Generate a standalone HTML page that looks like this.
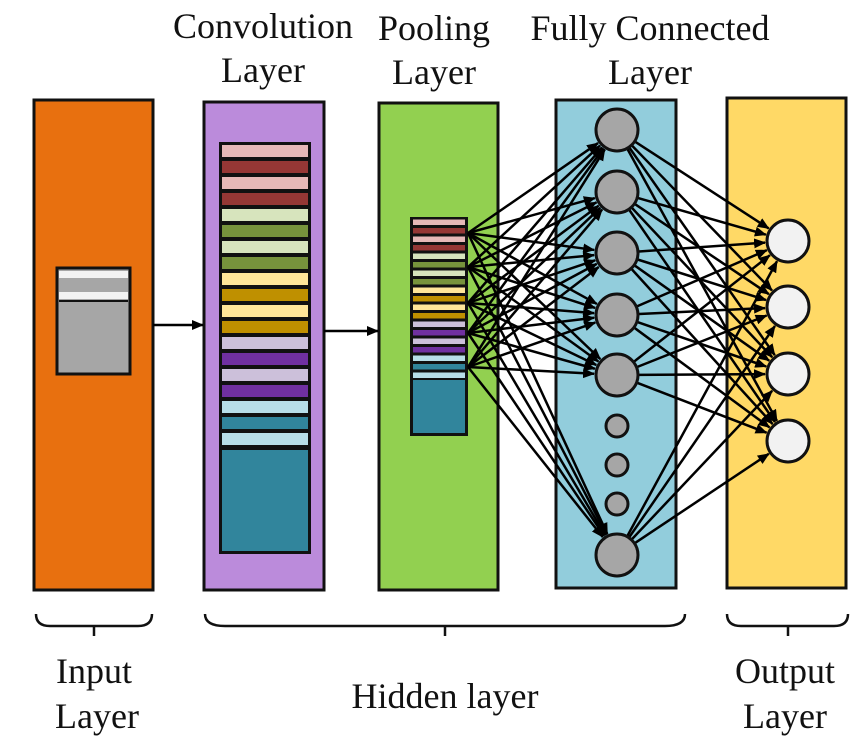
<!DOCTYPE html>
<html><head><style>
body{margin:0;background:#fff;}
svg text{font-family:"Liberation Serif",serif;font-size:36px;fill:#111;}
</style></head><body>
<svg width="866" height="746" viewBox="0 0 866 746" xmlns="http://www.w3.org/2000/svg">
<defs>
<marker id="a" markerWidth="12" markerHeight="10" refX="11" refY="5" orient="auto" markerUnits="userSpaceOnUse"><path d="M0,0 L12,5 L0,10 z" fill="#000"/></marker>
</defs>
<g stroke="#111" stroke-width="3">
<rect x="34" y="100" width="119" height="490" fill="#e8700f"/>
<rect x="204" y="102" width="120" height="488" fill="#bb8bdb"/>
<rect x="379" y="103" width="119" height="487" fill="#92d050"/>
<rect x="556" y="100" width="120" height="488" fill="#92cddc"/>
<rect x="727" y="98" width="119" height="490" fill="#ffd966"/>
</g>
<rect x="57" y="268" width="73" height="106" fill="#a6a6a6" stroke="#111" stroke-width="3"/>
<rect x="59" y="271" width="69" height="7" fill="#f2f2f2"/>
<rect x="59" y="281" width="69" height="6" fill="#a6a6a6"/>
<rect x="59" y="292" width="69" height="7" fill="#f2f2f2"/>
<line x1="59" y1="301" x2="128" y2="301" stroke="#111" stroke-width="2"/>
<rect x="219" y="142" width="92" height="412" fill="#111"/>
<g id="conv"></g>
<rect x="222" y="450" width="86" height="101" fill="#31859c"/>
<rect x="410" y="217" width="58" height="219" fill="#111"/>
<g id="pool"></g>
<rect x="413" y="380" width="52" height="53" fill="#31859c"/>
<script>
var c=["#e6b8b7","#953735","#e6b8b7","#953735","#d7e4bd","#77933c","#d7e4bd","#77933c","#ffe699","#bf9000","#ffe699","#bf9000","#ccc0da","#7030a0","#ccc0da","#7030a0","#b7dee8","#31859c","#b7dee8"];
var ns="http://www.w3.org/2000/svg";
function st(g,x,y0,w,p,h){for(var i=0;i<19;i++){var r=document.createElementNS(ns,"rect");r.setAttribute("x",x);r.setAttribute("y",y0+i*p);r.setAttribute("width",w);r.setAttribute("height",h);r.setAttribute("fill",c[i]);g.appendChild(r);}}
st(document.getElementById("conv"),222,145,86,16,12);
st(document.getElementById("pool"),413,219.5,52,8.5,5.5);
</script>
<g stroke="#000" stroke-width="2.5" fill="none" marker-end="url(#a)" id="lines">
<line x1="153" y1="325" x2="203" y2="325"/>
<line x1="324" y1="331" x2="378" y2="331"/>
</g>
<script>
var L=document.getElementById("lines");
function ln(x1,y1,x2,y2){var l=document.createElementNS(ns,"line");l.setAttribute("x1",x1);l.setAttribute("y1",y1);l.setAttribute("x2",x2);l.setAttribute("y2",y2);L.appendChild(l);}
var fc=[130,192,253,315,375,555],src=[233,267,303,333,367],out=[241,307,374,441];
src.forEach(function(s){fc.forEach(function(f){var dx=617-468,dy=f-s,d=Math.hypot(dx,dy);ln(468,s,617-dx/d*23,f-dy/d*23);});});
fc.forEach(function(f){out.forEach(function(o){var dx=788-617,dy=o-f,d=Math.hypot(dx,dy);ln(617+dx/d*22,f+dy/d*22,788-dx/d*23,o-dy/d*23);});});
</script>
<g stroke="#111" stroke-width="3">
<circle cx="617" cy="130" r="21" fill="#a6a6a6"/>
<circle cx="617" cy="192" r="21" fill="#a6a6a6"/>
<circle cx="617" cy="253" r="21" fill="#a6a6a6"/>
<circle cx="617" cy="315" r="21" fill="#a6a6a6"/>
<circle cx="617" cy="375" r="21" fill="#a6a6a6"/>
<circle cx="617" cy="426" r="11" fill="#a6a6a6"/>
<circle cx="617" cy="465" r="11" fill="#a6a6a6"/>
<circle cx="617" cy="504" r="11" fill="#a6a6a6"/>
<circle cx="617" cy="555" r="21" fill="#a6a6a6"/>
<circle cx="788" cy="241" r="21" fill="#f2f2f2"/>
<circle cx="788" cy="307" r="21" fill="#f2f2f2"/>
<circle cx="788" cy="374" r="21" fill="#f2f2f2"/>
<circle cx="788" cy="441" r="21" fill="#f2f2f2"/>
</g>
<g stroke="#111" stroke-width="2.5" fill="none">
<path d="M36,614 Q36,626 50,626 L138,626 Q152,626 152,614"/><line x1="94" y1="626" x2="94" y2="636"/>
<path d="M205,614 Q205,626 225,626 L665,626 Q685,626 685,614"/><line x1="445" y1="626" x2="445" y2="636"/>
<path d="M727,614 Q727,626 741,626 L834,626 Q848,626 848,614"/><line x1="788" y1="626" x2="788" y2="636"/>
</g>
<g text-anchor="middle">
<text x="263" y="38">Convolution</text><text x="263" y="82">Layer</text>
<text x="434" y="40">Pooling</text><text x="434" y="84">Layer</text>
<text x="650" y="40">Fully Connected</text><text x="650" y="84">Layer</text>
<text x="94" y="683">Input</text><text x="97" y="728">Layer</text>
<text x="445" y="708">Hidden layer</text>
<text x="785" y="683">Output</text><text x="785" y="728">Layer</text>
</g>
</svg>
</body></html>
